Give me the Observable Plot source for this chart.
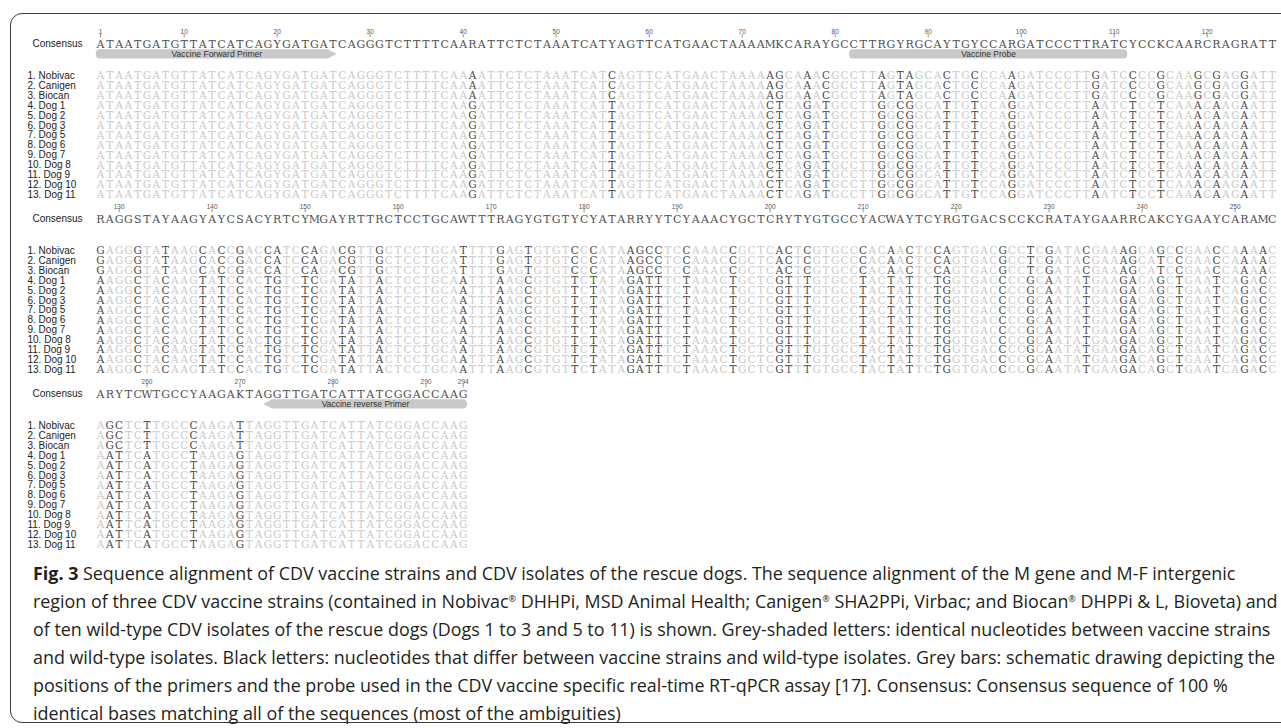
<!DOCTYPE html>
<html>
<head>
<meta charset="utf-8">
<script src="https://cdn.jsdelivr.net/npm/d3@7"></script>
<script src="https://cdn.jsdelivr.net/npm/@observablehq/plot@0.6"></script>
<style>
html,body{margin:0;padding:0;background:#fff;width:1281px;height:728px;overflow:hidden;position:relative}
#frame{position:absolute;left:10px;top:13px;width:1330px;height:710px;border:1.5px solid #3a3a3a;border-radius:12px;box-sizing:border-box}
#chart{position:absolute;left:0;top:0}
#caption{position:absolute;left:33px;top:559px;font-family:"Open Sans",sans-serif;font-size:18px;line-height:28px;color:#231f20;white-space:nowrap;transform-origin:0 0}
#caption .ln{display:block;width:max-content}
#caption b{font-weight:700}
#caption sup{font-size:9px;vertical-align:6px;line-height:0}
</style>
</head>
<body>
<div id="frame"></div>
<div id="chart"></div>
<div id="caption">
<span class="ln"><b>Fig. 3</b> Sequence alignment of CDV vaccine strains and CDV isolates of the rescue dogs. The sequence alignment of the M gene and M-F intergenic</span>
<span class="ln">region of three CDV vaccine strains (contained in Nobivac<sup>®</sup> DHHPi, MSD Animal Health; Canigen<sup>®</sup> SHA2PPi, Virbac; and Biocan<sup>®</sup> DHPPi &amp; L, Bioveta) and</span>
<span class="ln">of ten wild-type CDV isolates of the rescue dogs (Dogs 1 to 3 and 5 to 11) is shown. Grey-shaded letters: identical nucleotides between vaccine strains</span>
<span class="ln">and wild-type isolates. Black letters: nucleotides that differ between vaccine strains and wild-type isolates. Grey bars: schematic drawing depicting the</span>
<span class="ln">positions of the primers and the probe used in the CDV vaccine specific real-time RT-qPCR assay [17]. Consensus: Consensus sequence of 100 %</span>
<span class="ln">identical bases matching all of the sequences (most of the ambiguities)</span>
</div>
<script>
// ---------- DATA ----------
const clean = s => s.replace(/\s+/g, "");

const rowLabels = ["1. Nobivac", "2. Canigen", "3. Biocan", "4. Dog 1", "5. Dog 2", "6. Dog 3",
  "7. Dog 5", "8. Dog 6", "9. Dog 7", "10. Dog 8", "11. Dog 9", "12. Dog 10", "13. Dog 11"];

const consensus = clean(`
ATAATGATGT TATCATCAGY GATGATCAGG GTCTTTTCAA RATTCTCTAA ATCATYAGTT CATGAACTAA AAMKCARAYG CCTTRGYRGC AYTGYCCARG ATCCCTTRAT CYCCKCAARC RAGRATT
RAGGSTAYAA GYAYCSACYR TCYMGAYRTT RCTCCTGCAW TTTRAGYGTG TYCYATARRY YTCYAAACYG CTCRYTYGTG CCYACWAYTC YRGTGACSCC KCRATAYGAA RRCAKCYGAA YCARAMC
ARYTCWTGCC YAAGAKTAGG TTGATCATTA TCGGACCAAG`);

const nobivac = clean(`
ATAATGATGT TATCATCAGY GATGATCAGG GTCTTTTCAA AATTCTCTAA ATCATCAGTT CATGAACTAA AAAGCAAACG CCTTAGTAGC ACTGCCCAAG ATCCCTTGAT CCCCGCAAGC GAGGATT
GAGGGTATAA GCACCGACCA TCCAGACGTT GCTCCTGCAT TTTGAGTGTG TCCCATAAGC CTCCAAACCG CTCACTCGTG CCCACAACTC CAGTGACGCC TCGATACGAA AGCAGCCGAA CCAAAAC
AGCTCTTGCC CAAGATTAGG TTGATCATTA TCGGACCAAG`);

const canigen = clean(`
ATAATGATGT TATCATCAGY GATGATCAGG GTCTTTTCAA AATTCTCTAA ATCATCAGTT CATGAACTAA AAAGCAAACG CCTTAGTAGC ACTGCCCAAG ATCCCTTGAT CCCCGCAAGC GAGGATT
GAGGGTATAA GCACCGACCA TCCAGACGTT GCTCCTGCAT TTTGAGTGTG TCCCATAAGC CTCCAAACCG CTCACTCGTG CCCACAACTC CAGTGACGCC TCGATACGAA AGCATCCGAA CCAAAAC
AGCTCTTGCC CAAGATTAGG TTGATCATTA TCGGACCAAG`);

const biocan = clean(`
ATAATGATGT TATCATCAGY GATGATCAGG GTCTTTTCAA AATTCTCTAA ATCATCAGTT CATGAACTAA AAAGCAAACG CCTTAGTAGC ACTGCCCAAG ATCCCTTGAT CCCCGCAAGC GAGGATT
GAGGGTATAA GCACCGACCA TCCAGACGTT GCTCCTGCAT TTTGAGTGTG TCCCATAAGC CTCCAAACCG CTCACTCGTG CCCACAACTC CAGTGACGCC TCGATACGAA AGCATCCGAA CCAAAAC
AGCTCTTGCC CAAGATTAGG TTGATCATTA TCGGACCAAG`);

// wild-type isolates (Dogs 1-3, 5-11) share this sequence
const wildType = clean(`
ATAATGATGT TATCATCAGY GATGATCAGG GTCTTTTCAA GATTCTCTAA ATCATTAGTT CATGAACTAA AACTCAGATG CCTTGGCGGC ATTGTCCAGG ATCCCTTAAT CTCCTCAAAC AAGAATT
AAGGCTACAA GTATCCACTG TCTCGATATT ACTCCTGCAA TTTAAGCGTG TTCTATAGAT TTCTAAACTG CTCGTTTGTG CCTACTATTC TGGTGACCCC GCAATATGAA GACAGCTGAA TCAGACC
AATTCATGCC TAAGAGTAGG TTGATCATTA TCGGACCAAG`);

const rowSequences = [nobivac, canigen, biocan, wildType, wildType, wildType, wildType,
  wildType, wildType, wildType, wildType, wildType, wildType];

const tickLabels = [1, 10, 20, 30, 40, 50, 60, 70, 80, 90, 100, 110, 120, 130, 140, 150, 160, 170,
  180, 190, 200, 210, 220, 230, 240, 250, 260, 270, 280, 290, 294];

const features = [
  {label: "Vaccine Forward Primer", start: 1, end: 26, arrow: "right"},
  {label: "Vaccine Probe", start: 82, end: 111, arrow: "none"},
  {label: "Vaccine reverse Primer", start: 273, end: 294, arrow: "left"}
];

// ---------- LAYOUT HELPERS ----------
const PER_LINE = 127;
const blockOf = p => Math.floor((p - 1) / PER_LINE);
const colOf = p => (p - 1) % PER_LINE;
const yRow = (block, row) => block * 17.5 + (row === 0 ? 0 : 3.15 + (row - 1) * 0.996);

const N = consensus.length;
const variable = d3.range(N).map(i => new Set(rowSequences.map(s => s[i])).size > 1);

const cells = [];
rowSequences.forEach((s, r) => {
  for (let i = 0; i < N; i++) cells.push({pos: i + 1, row: r + 1, base: s[i], variable: variable[i]});
});
const consCells = Array.from(consensus, (b, i) => ({pos: i + 1, row: 0, base: b}));

const consLabels = [0, 1, 2].map(b => ({label: "Consensus", block: b, row: 0}));
const seqLabels = [];
for (let b = 0; b < 3; b++) rowLabels.forEach((l, r) => seqLabels.push({label: l, block: b, row: r + 1}));

const ticks = tickLabels.map(t => ({pos: t, label: String(t)}));

// feature bars: rounded body + triangular arrow head
const head = 1.0;
const geo = features.map(f => {
  const cy = yRow(blockOf(f.start), 0);
  return {f, x1: colOf(f.start) - 0.45, x2: colOf(f.end) + 0.45, top: cy + 0.58, bot: cy + 1.5};
});
const bodies = geo.map(g => ({
  x1: g.f.arrow === "left" ? g.x1 + head - 0.35 : g.x1,
  x2: g.f.arrow === "right" ? g.x2 - head + 0.35 : g.x2,
  y1: g.top, y2: g.bot
}));
const heads = geo.flatMap(g => {
  const mid = (g.top + g.bot) / 2;
  if (g.f.arrow === "right") return [
    {f: g.f.label, x: g.x2 - head, y1: g.top, y2: g.bot}, {f: g.f.label, x: g.x2, y1: mid, y2: mid}];
  if (g.f.arrow === "left") return [
    {f: g.f.label, x: g.x1, y1: mid, y2: mid}, {f: g.f.label, x: g.x1 + head, y1: g.top, y2: g.bot}];
  return [];
});
const featureLabels = geo.map(g => ({label: g.f.label, x: (g.x1 + g.x2) / 2, y: (g.top + g.bot) / 2}));

const seqFont = "DejaVu Serif, serif";
const labFont = "Liberation Sans, Arial, sans-serif";
const barFill = "#c9c9c9";

const plot = Plot.plot({
  width: 1281,
  height: 559,
  margin: 0,
  x: {domain: [0, 126], range: [100, 100 + 126 * 9.3], axis: null},
  y: {domain: [0, 50], range: [43.5, 543.5], axis: null},
  style: {background: "transparent", fontFamily: labFont, overflow: "visible"},
  marks: [
    Plot.rect(bodies, {x1: "x1", x2: "x2", y1: "y1", y2: "y2", rx: 4, fill: barFill}),
    Plot.areaY(heads, {x: "x", y1: "y1", y2: "y2", z: "f", curve: "linear", fill: barFill}),
    Plot.text(featureLabels, {x: "x", y: "y", text: "label", fontSize: 8.5, fill: "#333", fontFamily: labFont}),
    Plot.ruleX(ticks, {x: d => colOf(d.pos), y1: d => yRow(blockOf(d.pos), 0) - 0.95, y2: d => yRow(blockOf(d.pos), 0) - 0.62, stroke: "#777", strokeWidth: 0.8}),
    Plot.text(ticks, {x: d => colOf(d.pos), y: d => yRow(blockOf(d.pos), 0), dy: -12, text: "label", fontSize: 6.5, fill: "#555", fontFamily: labFont}),
    Plot.text(consCells, {x: d => colOf(d.pos), y: d => yRow(blockOf(d.pos), 0), text: "base", fontSize: 11, fill: "#505050", fontFamily: seqFont}),
    Plot.text(cells.filter(d => !d.variable), {x: d => colOf(d.pos), y: d => yRow(blockOf(d.pos), d.row), text: "base", fontSize: 10.5, fill: "#c9c9c9", fontFamily: seqFont}),
    Plot.text(cells.filter(d => d.variable), {x: d => colOf(d.pos), y: d => yRow(blockOf(d.pos), d.row), text: "base", fontSize: 10.5, fill: "#4a4a4a", fontFamily: seqFont}),
    Plot.text(consLabels, {frameAnchor: "left", y: d => yRow(d.block, d.row), text: "label", textAnchor: "start",
      dx: 32, fontSize: 10, fill: "#222", fontFamily: labFont}),
    Plot.text(seqLabels, {frameAnchor: "left", y: d => yRow(d.block, d.row), text: "label", textAnchor: "start",
      dx: 27, fontSize: 10, fill: "#222", fontFamily: labFont})
  ]
});
document.getElementById("chart").appendChild(plot);
</script>
<script>
// caption: keep the reference line breaks and fit them to the reference widths
(function () {
  const cap = document.getElementById("caption");
  const targets = [1221, 1241, 1239, 1232, 1187, 584];
  const fit = () => {
    const lines = Array.from(cap.querySelectorAll(".ln"));
    const w = lines.map(l => l.offsetWidth);
    let sw = 0, st = 0;
    for (let i = 0; i < 5; i++) { sw += w[i]; st += targets[i]; }
    cap.style.transform = `scaleX(${st / sw})`;
  };
  fit();
  if (document.fonts && document.fonts.ready) document.fonts.ready.then(fit);
})();
</script>
</body>
</html>
